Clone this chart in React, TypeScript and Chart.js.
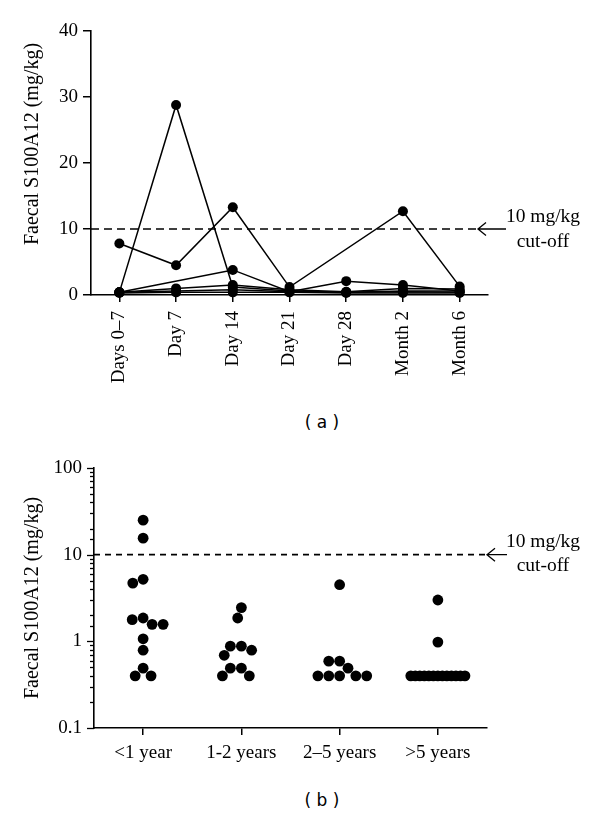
import { useEffect, useRef } from 'react';
import { Chart, registerables } from 'chart.js';

Chart.register(...registerables);

// ---------- Panel (a) data ----------
const timeLabels = ['Days 0–7', 'Day 7', 'Day 14', 'Day 21', 'Day 28', 'Month 2', 'Month 6'];
const patientA = [0.4, 28.8, 1.2, 0.6, 0.4, 0.6, 0.6];
const patientB = [7.8, 4.5, 13.3, 1.2, null, 12.7, 1.3];
const patientC = [0.4, null, 3.8, 0.5, 2.1, 1.5, 0.6];
const patientD = [0.4, 1.0, 1.5, 0.8, 0.5, 1.0, 0.9];
const patientE = [0.4, 0.6, 0.8, 0.5, 0.4, 0.5, 0.4];
const patientF = [0.3, 0.4, 0.4, 0.4, 0.3, 0.3, 0.3];
const linearTicks = [0, 10, 20, 30, 40];

// ---------- Panel (b) data ----------
const ageGroups = ['<1 year', '1-2 years', '2–5 years', '>5 years'];
const under1Year = [25, 15.5, 5.2, 4.7, 1.86, 1.78, 1.57, 1.57, 1.07, 0.79, 0.49, 0.4, 0.4];
const years1to2 = [2.45, 1.86, 0.88, 0.88, 0.79, 0.69, 0.49, 0.49, 0.4, 0.4];
const years2to5 = [4.5, 0.59, 0.59, 0.49, 0.4, 0.4, 0.4, 0.4, 0.4];
const over5Years = [3.0, 0.98, 0.4, 0.4, 0.4, 0.4, 0.4, 0.4, 0.4, 0.4, 0.4, 0.4, 0.4, 0.4, 0.4];
const logLabelTicks = [0.1, 1, 10, 100];

const cutoffValue = 10;
const cutoffText = ['10 mg/kg', 'cut-off'];
const yTitle = 'Faecal S100A12 (mg/kg)';

const SERIF = '"Liberation Serif", "Times New Roman", serif';
const FONT = { family: SERIF, size: 19 };

// beeswarm layout (pixel space), returns offsets in category units
function beeswarm(values: number[], dot: number, pxPerDecade: number, maxHalf: number, pxPerCat: number) {
  const order = values.map((v, i) => i).sort((a, b) => values[b] - values[a]);
  const placed: { x: number; y: number }[] = [];
  const xs: number[] = new Array(values.length).fill(0);
  for (const i of order) {
    const y = Math.log10(values[i]) * pxPerDecade;
    const cands = [0];
    for (const p of placed) {
      const dy = Math.abs(p.y - y);
      if (dy < dot) {
        const dx = Math.sqrt(dot * dot - dy * dy);
        cands.push(p.x + dx, p.x - dx);
      }
    }
    const ok = cands.filter((c) => placed.every((q) => (c - q.x) ** 2 + (y - q.y) ** 2 >= dot * dot - 0.5));
    ok.sort((a, b) => Math.abs(a) - Math.abs(b) || a - b);
    const x = ok[0];
    placed.push({ x, y });
    xs[i] = x;
  }
  const m = Math.max(...xs.map(Math.abs));
  const k = m > maxHalf ? maxHalf / m : 1;
  return xs.map((x) => (x * k) / pxPerCat);
}

const cutoffPlugin = (o: { tipOffset: number; arrowLen: number; dash: number[]; dy1: number; dy2: number; textX: number }) => ({
  id: 'cutoff',
  beforeDatasetsDraw(chart: any) {
    const { ctx, chartArea } = chart;
    const y = chart.scales.y.getPixelForValue(cutoffValue);
    const tip = chartArea.right + o.tipOffset;
    ctx.save();
    ctx.strokeStyle = '#000';
    ctx.lineWidth = 1.6;
    ctx.setLineDash(o.dash);
    ctx.beginPath();
    ctx.moveTo(chartArea.left, y);
    ctx.lineTo(tip, y);
    ctx.stroke();
    ctx.setLineDash([]);
    ctx.lineWidth = 1.3;
    ctx.beginPath();
    ctx.moveTo(tip, y);
    ctx.lineTo(tip + o.arrowLen, y);
    ctx.moveTo(tip + 8, y - 6.5);
    ctx.lineTo(tip, y);
    ctx.lineTo(tip + 8, y + 6.5);
    ctx.stroke();
    ctx.fillStyle = '#000';
    ctx.font = `19.5px ${SERIF}`;
    ctx.textAlign = 'center';
    ctx.textBaseline = 'middle';
    ctx.fillText(cutoffText[0], o.textX, y + o.dy1);
    ctx.fillText(cutoffText[1], o.textX, y + o.dy2);
    ctx.restore();
  },
});

const yTitlePlugin = (o: { x: number; yc: number }) => ({
  id: 'ytitle',
  afterDraw(chart: any) {
    const { ctx } = chart;
    ctx.save();
    ctx.translate(o.x, o.yc);
    ctx.rotate(-Math.PI / 2);
    ctx.fillStyle = '#000';
    ctx.font = `20px ${SERIF}`;
    ctx.textAlign = 'center';
    ctx.textBaseline = 'middle';
    ctx.fillText(yTitle, 0, 0);
    ctx.restore();
  },
});

const logTickPlugin = {
  id: 'logticks',
  afterDraw(chart: any) {
    const s = chart.scales.y;
    const { ctx } = chart;
    const x0 = s.right;
    ctx.save();
    ctx.strokeStyle = '#000';
    ctx.lineWidth = 1.3;
    for (const t of s.ticks) {
      const lg = Math.log10(t.value);
      const major = Math.abs(lg - Math.round(lg)) < 1e-6;
      const py = Math.round(s.getPixelForValue(t.value)) + 0.5;
      ctx.beginPath();
      ctx.moveTo(x0 - (major ? 7 : 4), py);
      ctx.lineTo(x0, py);
      ctx.stroke();
    }
    ctx.restore();
  },
};

function PanelA() {
  const ref = useRef<HTMLCanvasElement>(null);
  useEffect(() => {
    const series = [patientA, patientB, patientC, patientD, patientE, patientF];
    const chart = new Chart(ref.current!, {
      type: 'line',
      data: {
        labels: timeLabels,
        datasets: series.map((s) => ({
          data: s,
          borderColor: '#000',
          backgroundColor: '#000',
          pointBackgroundColor: '#000',
          pointBorderColor: '#000',
          pointRadius: 5,
          pointBorderWidth: 0,
          borderWidth: 1.5,
          spanGaps: true,
          tension: 0,
          clip: false as any,
        })),
      },
      options: {
        animation: false,
        responsive: false,
        maintainAspectRatio: false,
        layout: { padding: { top: 31, right: 112, left: 0, bottom: 0 } },
        plugins: { legend: { display: false }, tooltip: { enabled: false } },
        scales: {
          x: {
            type: 'category',
            offset: true,
            grid: { display: true, offset: false, drawOnChartArea: false, drawTicks: true, tickLength: 7, color: '#000', lineWidth: 1.5 },
            border: { display: true, color: '#000', width: 1.6 },
            ticks: { color: '#000', font: FONT, minRotation: 90, maxRotation: 90, padding: 9, autoSkip: false },
            afterFit: (s: any) => { s.height = 105; },
          },
          y: {
            type: 'linear',
            min: 0,
            max: 40,
            afterBuildTicks: (s: any) => { s.ticks = linearTicks.map((v) => ({ value: v })); },
            ticks: { color: '#000', font: FONT, padding: 5 },
            grid: { drawOnChartArea: false, tickLength: 8, color: '#000', lineWidth: 1.5 },
            border: { display: true, color: '#000', width: 1.6 },
            afterFit: (s: any) => { s.width = 91; },
          },
        },
      },
      plugins: [
        cutoffPlugin({ tipOffset: -10, arrowLen: 28, dash: [8, 5], dy1: -12, dy2: 13, textX: 543 }),
        yTitlePlugin({ x: 33, yc: 144 }),
      ],
    } as any);
    return () => chart.destroy();
  }, []);
  return <canvas ref={ref} width={600} height={400} style={{ position: 'absolute', left: 0, top: 0, width: 600, height: 400 }} />;
}

function PanelB() {
  const ref = useRef<HTMLCanvasElement>(null);
  useEffect(() => {
    const groups = [under1Year, years1to2, years2to5, over5Years];
    const points = groups.flatMap((vals, gi) => {
      const off = beeswarm(vals, 11, 86.7, 27, 98);
      return vals.map((v, i) => ({ x: gi + off[i], y: v }));
    });
    const chart = new Chart(ref.current!, {
      type: 'scatter',
      data: {
        datasets: [
          {
            data: points,
            backgroundColor: '#000',
            borderColor: '#000',
            pointRadius: 5.4,
            pointBorderWidth: 0,
            clip: false as any,
          },
        ],
      },
      options: {
        animation: false,
        responsive: false,
        maintainAspectRatio: false,
        layout: { padding: { top: 28, right: 113, left: 0, bottom: 0 } },
        plugins: { legend: { display: false }, tooltip: { enabled: false } },
        scales: {
          x: {
            type: 'linear',
            min: -0.5,
            max: 3.5,
            afterBuildTicks: (s: any) => { s.ticks = ageGroups.map((_, i) => ({ value: i })); },
            ticks: { color: '#000', font: FONT, padding: 7, autoSkip: false, maxRotation: 0, callback: (v: any) => ageGroups[v] ?? '' },
            grid: { drawOnChartArea: false, tickLength: 7, color: '#000', lineWidth: 1.5 },
            border: { display: true, color: '#000', width: 1.6 },
            afterFit: (s: any) => { s.height = 52; },
          },
          y: {
            type: 'logarithmic',
            min: 0.1,
            max: 100,
            ticks: {
              color: '#000',
              font: FONT,
              padding: 12,
              autoSkip: false,
              callback: (v: any) => (logLabelTicks.some((t) => Math.abs(t - v) < 1e-9) ? String(v) : ''),
            },
            grid: { drawOnChartArea: false, drawTicks: false, color: '#000' },
            border: { display: true, color: '#000', width: 1.6 },
            afterFit: (s: any) => { s.width = 94; },
          },
        },
      },
      plugins: [
        cutoffPlugin({ tipOffset: 0, arrowLen: 20, dash: [6, 5], dy1: -13, dy2: 11, textX: 543 }),
        yTitlePlugin({ x: 33, yc: 158 }),
        logTickPlugin,
      ],
    } as any);
    return () => chart.destroy();
  }, []);
  return <canvas ref={ref} width={600} height={340} style={{ position: 'absolute', left: 0, top: 440, width: 600, height: 340 }} />;
}

const captionStyle: any = {
  position: 'absolute',
  left: 272,
  width: 100,
  textAlign: 'center',
  fontFamily: '"DejaVu Sans", Verdana, sans-serif',
  fontSize: 17,
  lineHeight: '20px',
  color: '#000',
  whiteSpace: 'pre',
};

export default function App() {
  return (
    <div style={{ position: 'absolute', left: 0, top: 0, width: 600, height: 816, background: '#fff' }}>
      <PanelA />
      <div style={{ ...captionStyle, top: 412 }}>( a )</div>
      <PanelB />
      <div style={{ ...captionStyle, top: 790 }}>( b )</div>
    </div>
  );
}
